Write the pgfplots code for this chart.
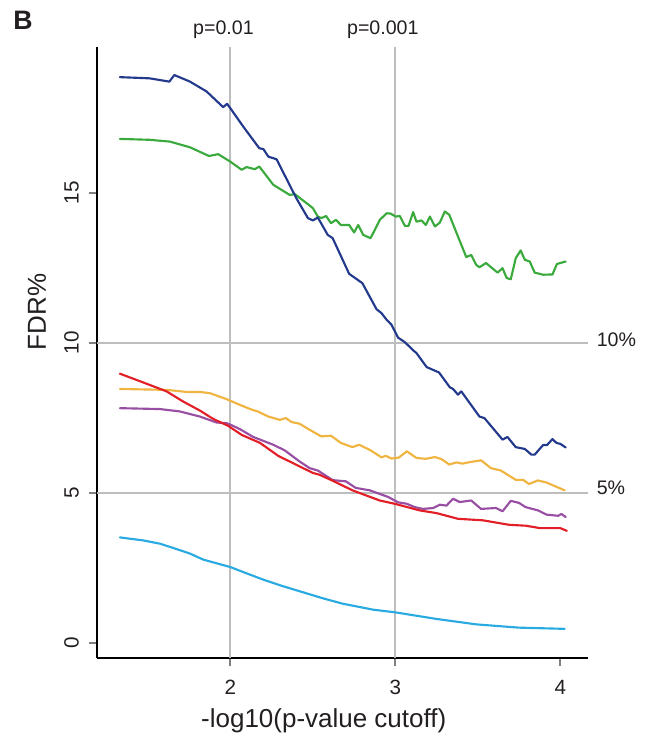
\documentclass[border=0pt]{standalone}
\usepackage{pgfplots}
\pgfplotsset{compat=1.18}
\usepackage{fontspec}
\setmainfont{Liberation Sans}
\definecolor{cblue}{HTML}{233A8C}
\definecolor{cgreen}{HTML}{3AAA3C}
\definecolor{cyellow}{HTML}{F0B441}
\definecolor{cred}{HTML}{E21E26}
\definecolor{cpurple}{HTML}{984EA3}
\definecolor{ccyan}{HTML}{29ABE2}
\definecolor{gridgray}{HTML}{BEBEBE}
\definecolor{tickgray}{HTML}{808080}
\definecolor{txt}{HTML}{231F20}
\begin{document}
\begin{tikzpicture}
\begin{axis}[
  scale only axis, width=368.25pt, height=458.25pt,
  xmin=1.191, xmax=4.167, ymin=-0.5, ymax=19.87,
  axis x line*=bottom, axis y line*=left,
  axis line style={black, line width=1.5pt, -},
  xtick={2,3,4}, ytick={0,5,10,15},
  tick align=outside, major tick length=6pt,
  tick style={color=tickgray, line width=1.5pt},
  clip=false,
  /pgf/number format/assume math mode=true,
  ticklabel style={font=\fontsize{15.5}{18}\selectfont, text=txt},
  yticklabel style={rotate=90, anchor=south, inner sep=0pt, yshift=7.5pt},
  xticklabel style={anchor=north, inner sep=0pt, yshift=-10.5pt},
  xlabel={-log10(p-value cutoff)}, ylabel={FDR\%},
  label style={font=\fontsize{19.5}{22}\selectfont, text=txt, inner sep=0pt},
  xlabel style={at={(rel axis cs:0.462,0)}, anchor=base, yshift=-52.5pt},
  ylabel style={at={(rel axis cs:0,0.566)}, anchor=base, yshift=38.25pt},
  every axis plot/.append style={line width=1.6pt, line join=round, line cap=round},
]
\path (axis cs:0.603,-3.0) rectangle (axis cs:4.561,21.433);
\draw[gridgray, line width=1.5pt] (axis cs:2,-0.5) -- (axis cs:2,19.87);
\draw[gridgray, line width=1.5pt] (axis cs:3,-0.5) -- (axis cs:3,19.87);
\draw[gridgray, line width=1.5pt] (axis cs:1.191,5) -- (axis cs:4.167,5);
\draw[gridgray, line width=1.5pt] (axis cs:1.191,10) -- (axis cs:4.167,10);

\addplot[ccyan] coordinates {
(1.33,3.51) (1.47,3.41) (1.573,3.30) (1.674,3.12) (1.755,2.97) (1.835,2.77)
(2.0,2.52) (2.118,2.27) (2.2,2.10) (2.32,1.88) (2.44,1.68) (2.56,1.48) (2.68,1.30)
(2.865,1.10) (3.0,1.01) (3.25,0.79) (3.49,0.61) (3.75,0.50) (4.027,0.46)};

\addplot[cyellow] coordinates {
(1.33,8.46) (1.613,8.43) (1.735,8.36) (1.815,8.36) (1.876,8.32) (1.977,8.12)
(2.04,7.97) (2.12,7.79) (2.17,7.70) (2.23,7.54) (2.30,7.43) (2.336,7.49) (2.37,7.36)
(2.42,7.30) (2.48,7.10) (2.55,6.88) (2.61,6.90) (2.67,6.66) (2.74,6.52) (2.78,6.60)
(2.845,6.43) (2.916,6.18) (2.942,6.23) (2.977,6.14) (3.02,6.17) (3.07,6.38) (3.128,6.16)
(3.185,6.13) (3.24,6.19) (3.28,6.12) (3.327,5.94) (3.37,6.01) (3.407,5.97) (3.45,6.02)
(3.52,6.08) (3.58,5.82) (3.64,5.74) (3.73,5.43) (3.775,5.43) (3.81,5.29) (3.865,5.41)
(3.916,5.34) (4.027,5.08)};

\addplot[cpurple] coordinates {
(1.33,7.82) (1.573,7.79) (1.694,7.71) (1.815,7.54) (1.917,7.34) (1.977,7.32) (2.0,7.27)
(2.058,7.12) (2.138,6.86) (2.26,6.60) (2.33,6.41) (2.42,6.04) (2.48,5.82) (2.53,5.74)
(2.62,5.42) (2.70,5.38) (2.76,5.16) (2.845,5.08) (2.956,4.86) (3.017,4.68) (3.07,4.63)
(3.118,4.52) (3.168,4.46) (3.23,4.49) (3.27,4.60) (3.31,4.57) (3.35,4.80) (3.39,4.69)
(3.46,4.74) (3.52,4.46) (3.61,4.49) (3.65,4.38) (3.70,4.73) (3.75,4.66) (3.79,4.52)
(3.865,4.41) (3.916,4.27) (3.987,4.23) (4.007,4.29) (4.033,4.19)};

\addplot[cred] coordinates {
(1.33,8.97) (1.47,8.68) (1.613,8.38) (1.714,8.04) (1.815,7.74) (1.896,7.46) (1.987,7.23)
(2.068,6.93) (2.18,6.66) (2.29,6.23) (2.40,5.93) (2.50,5.66) (2.54,5.60) (2.62,5.40)
(2.74,5.08) (2.906,4.74) (2.997,4.63) (3.148,4.41) (3.25,4.32) (3.38,4.13) (3.53,4.08)
(3.69,3.93) (3.79,3.90) (3.876,3.82) (4.0,3.82) (4.04,3.73)};

\addplot[cgreen] coordinates {
(1.33,16.80) (1.51,16.77) (1.633,16.71) (1.755,16.52) (1.87,16.23) (1.926,16.29)
(2.0,16.04) (2.068,15.77) (2.098,15.86) (2.148,15.79) (2.175,15.88) (2.26,15.27)
(2.36,14.93) (2.39,14.96) (2.48,14.58) (2.50,14.49) (2.53,14.21) (2.553,14.16)
(2.58,14.23) (2.61,13.99) (2.64,14.10) (2.67,13.93) (2.72,13.93) (2.75,13.68)
(2.775,13.93) (2.805,13.60) (2.85,13.49) (2.906,14.10) (2.947,14.32) (2.97,14.31)
(3.003,14.21) (3.027,14.23) (3.058,13.90) (3.08,13.90) (3.108,14.36) (3.128,14.04)
(3.159,14.08) (3.185,13.93) (3.21,14.21) (3.24,13.88) (3.27,14.01) (3.30,14.38)
(3.327,14.27) (3.43,12.86) (3.46,12.93) (3.49,12.60) (3.51,12.52) (3.55,12.66)
(3.62,12.34) (3.65,12.49) (3.675,12.16) (3.70,12.12) (3.73,12.82) (3.76,13.08)
(3.785,12.77) (3.815,12.71) (3.845,12.34) (3.896,12.27) (3.953,12.28) (3.98,12.63)
(4.033,12.71)};

\addplot[cblue] coordinates {
(1.33,18.86) (1.51,18.82) (1.63,18.71) (1.66,18.93) (1.755,18.71) (1.856,18.38)
(1.956,17.86) (1.98,17.97) (2.0,17.82) (2.078,17.21) (2.175,16.49) (2.20,16.46)
(2.23,16.21) (2.28,16.12) (2.40,14.82) (2.47,14.16) (2.50,14.08) (2.53,14.18)
(2.59,13.60) (2.62,13.49) (2.72,12.30) (2.80,11.99) (2.886,11.12) (2.916,10.99)
(2.947,10.77) (2.977,10.60) (3.017,10.17) (3.058,10.02) (3.108,9.75) (3.128,9.66)
(3.19,9.19) (3.265,9.01) (3.33,8.52) (3.35,8.46) (3.38,8.27) (3.40,8.38) (3.51,7.54)
(3.54,7.49) (3.65,6.77) (3.68,6.86) (3.73,6.52) (3.785,6.46) (3.825,6.27) (3.845,6.27)
(3.896,6.59) (3.92,6.59) (3.953,6.79) (3.977,6.66) (4.00,6.63) (4.033,6.51)};

\node[anchor=north west, inner sep=0pt, text=txt, font=\bfseries\fontsize{20}{24}\selectfont] at (axis cs:0.682,21.08) {B};
\node[anchor=base, inner sep=0pt, text=txt, font=\fontsize{14.7}{17}\selectfont] at (axis cs:1.958,20.27) {p=0.01};
\node[anchor=base, inner sep=0pt, text=txt, font=\fontsize{14.7}{17}\selectfont] at (axis cs:2.924,20.27) {p=0.001};
\node[anchor=base west, inner sep=0pt, text=txt, font=\fontsize{14.7}{17}\selectfont] at (axis cs:4.22,9.87) {10\%};
\node[anchor=base west, inner sep=0pt, text=txt, font=\fontsize{14.7}{17}\selectfont] at (axis cs:4.22,4.93) {5\%};
\end{axis}
\end{tikzpicture}
\end{document}
